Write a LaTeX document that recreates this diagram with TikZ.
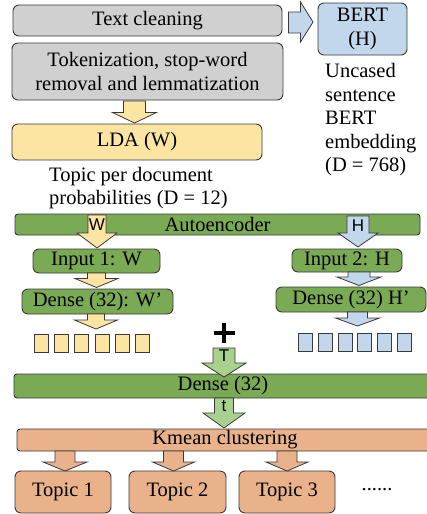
\documentclass[tikz,border=0pt]{standalone}
\usepackage{fontspec}
\setmainfont{Liberation Serif}
\newfontfamily\labelsans{Liberation Sans}
\definecolor{edge}{HTML}{3A3A3A}
\definecolor{cgray}{HTML}{D1D0D0}
\definecolor{cyellow}{HTML}{FCE4A2}
\definecolor{cblue}{HTML}{C3D7EC}
\definecolor{cgreen}{HTML}{7BAA55}
\definecolor{clgreen}{HTML}{A9D18E}
\definecolor{corange}{HTML}{E9B28B}
% downward block arrow: fill, centre x, top y, head y, tip y, shaft half width, head half width
\newcommand\blockdown[7]{%
  \filldraw[fill=#1, draw=edge, line width=0.8pt]
    ({#2-#6},#3) -- ({#2+#6},#3) -- ({#2+#6},#4) -- ({#2+#7},#4) --
    (#2,#5) -- ({#2-#7},#4) -- ({#2-#6},#4) -- cycle;}
\begin{document}
\begin{tikzpicture}[x=1pt,y=-1pt,
  txt/.style={font=\fontsize{20.5}{23.5}\selectfont},
  box/.style={draw=edge, line width=0.9pt, rounded corners=6pt, inner sep=0pt,
    align=center, txt},
  bar/.style={box, rounded corners=3pt},
  graybox/.style={box, fill=cgray},
  yellowbox/.style={box, fill=cyellow},
  bluebox/.style={box, fill=cblue},
  greenbox/.style={box, fill=cgreen},
  orangebox/.style={box, fill=corange},
  note/.style={txt, align=left, inner sep=0pt, anchor=north west},
  arrowlabel/.style={font=\labelsans\fontsize{17}{17}\selectfont, inner sep=0pt},
  cell/.style={draw=edge, line width=0.8pt, minimum width=14pt, minimum height=18pt,
    inner sep=0pt, anchor=north west},
]
\useasboundingbox (0,0) rectangle (427,514);
\clip (0,0) rectangle (427,514);

% preprocessing
\node[graybox, minimum width=269pt, minimum height=31pt] (clean) at (147.5,20.5) {Text cleaning};
\node[graybox, minimum width=271pt, minimum height=57pt] (tok) at (147.5,71.5)
  {Tokenization, stop-word\\removal and lemmatization};
\node[yellowbox, minimum width=250pt, minimum height=36pt] (lda) at (137,142) {LDA (W)};
\node[bluebox, minimum width=89pt, minimum height=52pt] (bert) at (362.5,29) {BERT\\(H)};

\node[note] (ldanote) at (49,167) {Topic per document\\probabilities (D = 12)};
\node[note] (bertnote) at (325,63.5) {Uncased\\sentence\\BERT\\embedding\\(D = 768)};

% autoencoder
\node[bar, fill=cgreen, minimum width=405pt, minimum height=21pt] (ae) at (217.5,224.5) {Autoencoder};
\node[greenbox, minimum width=127pt, minimum height=24pt] (in1) at (96.5,261) {Input 1: W};
\node[greenbox, minimum width=110pt, minimum height=23pt] (in2) at (347,260.5) {Input 2: H};
\node[greenbox, minimum width=151pt, minimum height=25pt] (dw) at (97.5,301.5) {Dense (32): W'};
\node[greenbox, minimum width=150pt, minimum height=25pt] (dh) at (351,299.5) {Dense (32) H'};

% latent vectors
\foreach \i in {0,...,5} {
  \node[cell, fill=cyellow] (wv\i) at ({34+20.2*\i},334) {};
  \node[cell, fill=cblue] (hv\i) at ({298+19.8*\i},333) {};
}

% merge and clustering
\node[bar, fill=cgreen, minimum width=418pt, minimum height=24pt] (dense) at (223,386) {Dense (32)};
\node[bar, fill=corange, minimum width=416pt, minimum height=22pt] (km) at (225,440) {Kmean clustering};
\node[orangebox, minimum width=96pt, minimum height=42pt] (t1) at (63,492) {Topic 1};
\node[orangebox, minimum width=97pt, minimum height=42pt] (t2) at (177.5,492) {Topic 2};
\node[orangebox, minimum width=96pt, minimum height=42pt] (t3) at (287,492) {Topic 3};
\node[txt, inner sep=0pt] (dots) at (377,490) {......};

% block arrows
\filldraw[fill=cblue, draw=edge, line width=0.8pt]
  (288.5,12) -- (300.5,12) -- (300.5,2) -- (313,22) -- (300.5,42) -- (300.5,33) -- (288.5,33) -- cycle;
\blockdown{cyellow}{134.5}{101}{112.5}{123}{11}{22}
\blockdown{cyellow}{97}{215}{233}{248}{9}{20}
\node[arrowlabel] (wlab) at (97,225) {W};
\blockdown{cblue}{358}{216}{233}{247}{11}{20}
\node[arrowlabel] (hlab) at (358,226) {H};
\blockdown{cyellow}{96.5}{273}{278.5}{287.5}{9}{21.5}
\blockdown{cblue}{359}{272}{277}{285.5}{11}{22}
\blockdown{cyellow}{96}{314}{320}{329}{8.5}{21.5}
\blockdown{cblue}{357.5}{312}{318}{326}{10}{22}

% concatenation sign
\draw[line width=4.5pt] (213.5,333) -- (234.5,333) (224,323) -- (224,343);

\blockdown{clgreen}{224}{348}{363}{377}{11}{22}
\node[arrowlabel] (tlab) at (224,356) {T};
\blockdown{clgreen}{224}{398}{413}{428}{9.5}{21}
\node[arrowlabel] (slab) at (224,406) {t};

\blockdown{corange}{65}{451}{462}{471}{10}{22}
\blockdown{corange}{173.5}{451}{462}{471}{10}{21}
\blockdown{corange}{287}{451}{462}{471}{10}{21}
\end{tikzpicture}
\end{document}
